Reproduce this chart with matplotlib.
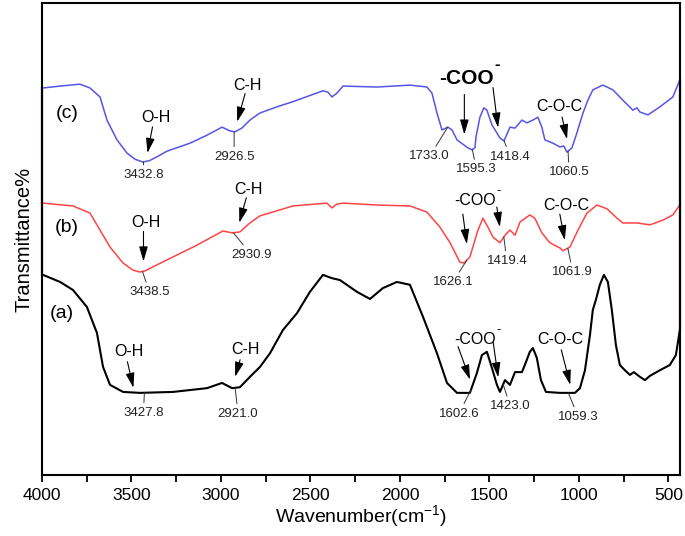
import numpy as np
import matplotlib
matplotlib.use("Agg")
import matplotlib.pyplot as plt
from matplotlib.ticker import MultipleLocator

plt.rcParams['font.family'] = ['Liberation Sans', 'DejaVu Sans']
plt.rcParams['mathtext.fontset'] = 'custom'
plt.rcParams['mathtext.rm'] = 'Liberation Sans'

# spectra (wavenumber in cm-1, transmittance in arbitrary units)
wn_c = [3994, 3899, 3788, 3732, 3676, 3637, 3581, 3525, 3480, 3436, 3400, 3358, 3302, 3173,
        3078, 2994, 2950, 2922, 2883, 2838, 2782, 2687, 2598, 2430, 2402, 2380, 2352, 2318,
        2128, 1944, 1849, 1821, 1793, 1765, 1732, 1709, 1681, 1620, 1598, 1581, 1575, 1553,
        1531, 1514, 1486, 1441, 1419, 1402, 1385, 1357, 1318, 1290, 1257, 1229, 1207, 1190,
        1145, 1106, 1084, 1067, 1039, 1011, 977, 950, 922, 866, 810, 754, 698, 676, 659, 614,
        547, 475, 436]
t_c = [82.0, 82.4, 82.8, 82.0, 80.1, 75.2, 71.0, 68.2, 66.9, 66.3, 66.6, 67.4, 68.6, 70.3,
       72.0, 73.7, 72.9, 72.7, 73.5, 75.2, 76.7, 78.0, 79.1, 81.4, 81.1, 80.1, 80.9, 82.4,
       82.2, 82.6, 82.2, 80.9, 76.7, 73.1, 73.7, 73.1, 71.0, 69.3, 68.9, 69.3, 71.6, 75.8,
       77.8, 77.3, 74.2, 71.4, 70.8, 72.2, 73.7, 73.5, 75.2, 74.6, 75.2, 75.8, 73.7, 71.0,
       70.3, 69.5, 69.7, 68.4, 69.3, 72.5, 76.7, 79.4, 81.6, 82.6, 81.6, 79.4, 77.3, 77.8,
       76.9, 76.3, 78.0, 80.1, 83.7]

wn_b = [3994, 3827, 3732, 3676, 3620, 3547, 3492, 3453, 3420, 3380, 3268, 3134, 2989, 2938,
        2894, 2838, 2782, 2598, 2408, 2380, 2352, 2318, 2128, 1944, 1849, 1776, 1720, 1665,
        1642, 1609, 1564, 1536, 1508, 1480, 1441, 1413, 1385, 1357, 1329, 1274, 1246, 1207,
        1162, 1106, 1089, 1050, 1005, 955, 899, 843, 787, 754, 676, 603, 530, 475, 436]
t_b = [57.6, 57.0, 55.5, 51.9, 48.3, 44.9, 43.4, 43.0, 43.3, 44.1, 46.2, 48.7, 51.7, 51.3,
       51.5, 53.4, 54.9, 57.0, 57.6, 56.6, 57.4, 57.6, 57.2, 57.0, 55.7, 52.5, 49.2, 45.1,
       44.9, 46.2, 51.9, 54.4, 52.5, 50.4, 49.2, 50.8, 51.9, 50.8, 53.6, 55.1, 54.4, 51.3,
       49.2, 48.1, 47.5, 48.3, 51.9, 55.5, 57.2, 56.4, 54.4, 53.4, 53.4, 53.0, 54.0, 55.1,
       57.2]

wn_a = [3994, 3899, 3827, 3749, 3693, 3659, 3620, 3547, 3453, 3268, 3078, 2994, 2938, 2894,
        2838, 2782, 2726, 2654, 2575, 2503, 2430, 2380, 2335, 2240, 2167, 2095, 2017, 1944,
        1871, 1793, 1737, 1681, 1609, 1570, 1542, 1514, 1486, 1458, 1441, 1413, 1385, 1357,
        1318, 1296, 1274, 1257, 1235, 1212, 1184, 1106, 1022, 994, 966, 938, 922, 905, 883,
        860, 838, 816, 793, 771, 743, 715, 693, 659, 631, 603, 547, 492, 458, 436]
t_a = [42.4, 40.9, 39.2, 35.6, 30.1, 22.9, 19.1, 17.6, 17.4, 17.6, 18.4, 19.5, 18.4, 18.6,
       20.8, 22.9, 25.8, 30.7, 34.3, 38.8, 42.4, 41.7, 41.3, 38.8, 37.3, 39.6, 40.9, 40.3,
       33.5, 25.8, 19.5, 17.4, 17.4, 21.6, 25.4, 26.1, 22.7, 19.1, 17.6, 20.1, 19.1, 21.8,
       21.8, 23.9, 26.1, 26.9, 24.8, 20.1, 17.6, 17.4, 17.4, 18.4, 22.2, 29.7, 35.0, 37.1,
       40.3, 42.4, 40.9, 35.0, 27.5, 23.3, 22.2, 21.2, 21.8, 20.8, 20.1, 21.0, 22.2, 23.3,
       25.4, 30.7]

# labelled peak positions
peaks_c = [3432.8, 2926.5, 1733.0, 1595.3, 1418.4, 1060.5]
peaks_b = [3438.5, 2930.9, 1626.1, 1419.4, 1061.9]
peaks_a = [3427.8, 2921.0, 1602.6, 1423.0, 1059.3]

blue = '#5555e6'
red = '#ff4444'

fig = plt.figure(figsize=(6.85, 5.36), dpi=100)
ax = fig.add_axes([42 / 685, 61 / 536, 638 / 685, 472 / 536])
ax.set_xlim(4000, 435)
ax.set_ylim(0, 100)

ax.plot(wn_c, t_c, color=blue, lw=1.1, solid_joinstyle='round')
ax.plot(wn_b, t_b, color=red, lw=1.1, solid_joinstyle='round')
ax.plot(wn_a, t_a, color='black', lw=1.5, solid_joinstyle='round')

for s in ax.spines.values():
    s.set_linewidth(1.5)

# origin-style coloured edges where each trace meets the frame
for x0, ends in [(4000, (t_c[0], t_b[0], t_a[0])), (435, (t_c[-1], t_b[-1], t_a[-1]))]:
    ax.plot([x0, x0], [ends[0], ends[1]], color='#3a3ab0', lw=1.6, clip_on=False)
    ax.plot([x0, x0], [ends[1], ends[2]], color='#8a2c2c', lw=1.6, clip_on=False)

ax.xaxis.set_major_locator(MultipleLocator(500))
ax.xaxis.set_minor_locator(MultipleLocator(250))
ax.tick_params(axis='x', which='both', direction='out', length=5, width=1.3,
               labelsize=12.5, top=False, pad=4)
ax.tick_params(axis='y', which='both', left=False, right=False, labelleft=False)
ax.set_xlabel(r'Wavenumber(cm$^{-1}$)', fontsize=14, labelpad=1)
ax.set_ylabel('Transmittance%', fontsize=14.5, labelpad=6)

renderer = fig.canvas.get_renderer()
arrow_style = '-|>,head_length=0.75,head_width=0.22'


def at(wn, t, dx, dy):
    # point shifted by dx, dy output pixels (dy measured downwards)
    x, y = ax.transData.transform((wn, t))
    return ax.transData.inverted().transform((x + dx, y - dy))


def value_on(wns, ts, wn):
    return np.interp(-wn, -np.array(wns), ts)


def number(wns, ts, wn, dx, dy):
    t = value_on(wns, ts, wn)
    ax.annotate(f'{wn:.1f}', xy=(wn, t), xytext=at(wn, t, dx, dy), ha='center', va='top',
                fontsize=9.5, color='#222222',
                arrowprops=dict(arrowstyle='-', lw=0.7, color='#333333', shrinkA=1, shrinkB=0))


def group(wns, ts, wn, text, dx, dy, arrows, sup=0, **kw):
    t = value_on(wns, ts, wn)
    txt = ax.text(*at(wn, t, dx, dy), text, ha='center', va='center', **kw)
    if sup:
        bb = txt.get_window_extent(renderer)
        ax.text(bb.x1 + 1, bb.y1 + sup, '-', transform=None, ha='left', va='center',
                fontsize=kw.get('fontsize', 11) * 0.8, fontweight=kw.get('fontweight', 'normal'))
    for pk, x0, y0, x1, y1 in arrows:
        tp = value_on(wns, ts, pk)
        ax.annotate('', xy=at(pk, tp, x1, y1), xytext=at(pk, tp, x0, y0),
                    arrowprops=dict(arrowstyle=arrow_style, lw=0.8, color='black',
                                    mutation_scale=12, shrinkA=0, shrinkB=0))


lab = dict(fontsize=11.5)

# (c)
for wn, dx, dy in zip(peaks_c, [0, 0, -18, 4, 6, 1], [7, 19, 23, 14, 10, 15]):
    number(wn_c, t_c, wn, dx, dy)
group(wn_c, t_c, 3432.8, 'O-H', 12, -44, [(3432.8, 9, -35, 4, -9)], **lab)
group(wn_c, t_c, 2926.5, 'C-H', 13, -46, [(2926.5, 11, -38, 3, -10)], **lab)
group(wn_c, t_c, 1595.3, '-COO', -6, -71,
      [(1595.3, -8, -55, -8, -15), (1418.4, -11, -53, -6, -13)], sup=4,
      fontsize=15, fontweight='bold')
group(wn_c, t_c, 1060.5, 'C-O-C', -9, -45, [(1060.5, -6, -34, -1, -12)], **lab)
fig.text(67 / 685, 1 - 113 / 536, '(c)', ha='center', va='center', fontsize=14)

# (b)
for wn, dx, dy in zip(peaks_b, [7, 18, -14, 3, 5], [15, 16, 16, 18, 18]):
    number(wn_b, t_b, wn, dx, dy)
group(wn_b, t_b, 3438.5, 'O-H', 3, -49, [(3438.5, 1, -40, 1, -10)], **lab)
group(wn_b, t_b, 2930.9, 'C-H', 15, -43, [(2930.9, 13, -35, 6, -10)], **lab)
group(wn_b, t_b, 1626.1, '-COO', 8, -60,
      [(1626.1, -4, -46, 0, -16), (1419.4, -7, -30, -4, -10)], sup=2, **lab)
group(wn_b, t_b, 1061.9, 'C-O-C', -1, -43, [(1061.9, -8, -34, -3, -8)], **lab)
fig.text(67 / 685, 1 - 228 / 536, '(b)', ha='center', va='center', fontsize=14)

# (a)
for wn, dx, dy in zip(peaks_a, [-1, 3, -12, 7, 10], [14, 20, 18, 16, 18]):
    number(wn_a, t_a, wn, dx, dy)
group(wn_a, t_a, 3427.8, 'O-H', -16, -41, [(3427.8, -17, -31, -11, -5)], **lab)
group(wn_a, t_a, 2921.0, 'C-H', 10, -38, [(2921.0, 5, -28, 0, -11)], **lab)
group(wn_a, t_a, 1602.6, '-COO', 4, -50,
      [(1602.6, -13, -43, -1, -10), (1423.0, -10, -42, -5, -7)], sup=2, **lab)
group(wn_a, t_a, 1059.3, 'C-O-C', -8, -53, [(1059.3, -7, -43, 2, -8)], **lab)
fig.text(62 / 685, 1 - 313 / 536, '(a)', ha='center', va='center', fontsize=14)

fig.savefig('out.png', dpi=100)
